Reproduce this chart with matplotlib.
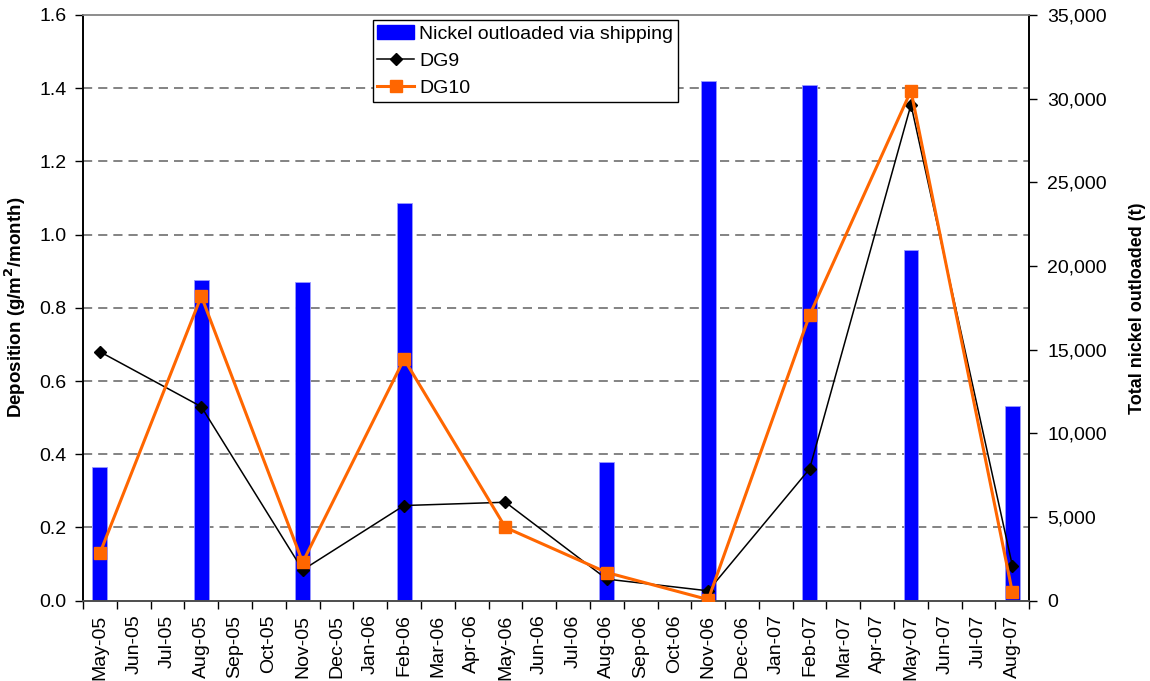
import numpy as np
import matplotlib
matplotlib.use("Agg")
import matplotlib.pyplot as plt
from matplotlib.patches import Patch

plt.rcParams['font.family'] = ['Liberation Sans', 'DejaVu Sans']

months = ["May-05", "Jun-05", "Jul-05", "Aug-05", "Sep-05", "Oct-05", "Nov-05",
          "Dec-05", "Jan-06", "Feb-06", "Mar-06", "Apr-06", "May-06", "Jun-06",
          "Jul-06", "Aug-06", "Sep-06", "Oct-06", "Nov-06", "Dec-06", "Jan-07",
          "Feb-07", "Mar-07", "Apr-07", "May-07", "Jun-07", "Jul-07", "Aug-07"]

# Nickel outloaded via shipping (t), by month
ship_months = ["May-05", "Aug-05", "Nov-05", "Feb-06", "Aug-06", "Nov-06", "Feb-07", "May-07", "Aug-07"]
ship_values = [8000, 19150, 19060, 23740, 8300, 31050, 30800, 20930, 11630]

# Deposition (g/m2/month)
dep_months = ["May-05", "Aug-05", "Nov-05", "Feb-06", "May-06", "Aug-06", "Nov-06", "Feb-07", "May-07", "Aug-07"]
dg9 = [0.68, 0.53, 0.084, 0.26, 0.269, 0.059, 0.027, 0.36, 1.355, 0.096]
dg10 = [0.13, 0.832, 0.105, 0.66, 0.20, 0.077, 0.003, 0.78, 1.393, 0.023]

L_MAX = 1.6
R_MAX = 35000
left_ticks = [0.0, 0.2, 0.4, 0.6, 0.8, 1.0, 1.2, 1.4, 1.6]
right_ticks = [0, 5000, 10000, 15000, 20000, 25000, 30000, 35000]

idx = {m: i for i, m in enumerate(months)}
ship_x = [idx[m] for m in ship_months]
dep_x = [idx[m] for m in dep_months]

fig = plt.figure(figsize=(11.5, 6.81), dpi=100)
ax = fig.add_axes([0.0722, 0.1179, 0.8228, 0.8601])  # bars (right scale)
ax2 = ax.twinx()  # lines (left scale)

FS = 14

# gridlines corresponding to the deposition ticks, behind bars
for t in left_ticks[1:-1]:
    ax.axhline(t / L_MAX * R_MAX, color='#6e6e6e', lw=1.2,
               linestyle=(0, (5.5, 3.6)), zorder=0)

ax.bar(ship_x, ship_values, width=0.44, color='#0000FF',
       edgecolor='#9a9aff', linewidth=0.6, zorder=2,
       label='Nickel outloaded via shipping')

ax.set_xlim(-0.5, len(months) - 0.5)
ax.set_ylim(0, R_MAX)
ax2.set_ylim(0, L_MAX)

# bars axis on the right
ax.yaxis.tick_right()
ax.yaxis.set_label_position('right')
ax.set_yticks(right_ticks)
ax.set_yticklabels([f"{v:,}" for v in right_ticks], fontsize=FS)
ax.set_ylabel("Total nickel outloaded (t)", fontsize=13, fontweight='bold', labelpad=16)
ax.tick_params(axis='y', direction='out', length=6, width=1, pad=7, right=True, left=False)

# lines axis on the left
ax2.yaxis.tick_left()
ax2.yaxis.set_label_position('left')
ax2.set_yticks(left_ticks)
ax2.set_yticklabels([f"{v:.1f}" for v in left_ticks], fontsize=FS)
ax2.set_ylabel("Deposition (g/m$^{\\mathbf{2}}$/month)", fontsize=13.5, fontweight='bold', labelpad=8)
ax2.tick_params(axis='y', direction='out', length=6, width=1, pad=6, left=True, right=False)

l9, = ax2.plot(dep_x, dg9, color='black', lw=1.1, marker='D', markersize=6,
               markerfacecolor='black', markeredgecolor='black', zorder=3, label='DG9')
l10, = ax2.plot(dep_x, dg10, color='#FF6600', lw=2.2, marker='s', markersize=8.5,
                markerfacecolor='#FF6600', markeredgecolor='#FF6600', zorder=4, label='DG10')

# x axis: labels at centers, ticks at boundaries
ax.set_xticks(range(len(months)))
ax.set_xticklabels(months, rotation=90, fontsize=FS)
ax.set_xticks(np.arange(-0.5, len(months), 1.0), minor=True)
ax.tick_params(axis='x', which='major', length=0, pad=10)
ax.tick_params(axis='x', which='minor', length=6, width=1, direction='out')

for a in (ax, ax2):
    a.spines['top'].set_color('#8c8c8c')
    a.spines['left'].set_color('black')
    a.spines['right'].set_color('black')
    a.spines['bottom'].set_color('black')
    for s in a.spines.values():
        s.set_linewidth(1.2)
ax2.spines['bottom'].set_color('#5a5a5a')

handles = [Patch(facecolor='#0000FF', edgecolor='#0000FF'), l9, l10]
labels = ['Nickel outloaded via shipping', 'DG9', 'DG10']
leg = ax2.legend(handles, labels, loc='upper left', bbox_to_anchor=(0.324, 0.971),
                 bbox_transform=fig.transFigure, borderaxespad=0, fontsize=FS,
                 frameon=True, fancybox=False, edgecolor='black', framealpha=1,
                 handlelength=1.9, handleheight=0.8, handletextpad=0.25,
                 borderpad=0.25, labelspacing=0.45)
leg.get_frame().set_linewidth(1.0)

fig.savefig("out.png", dpi=100)
